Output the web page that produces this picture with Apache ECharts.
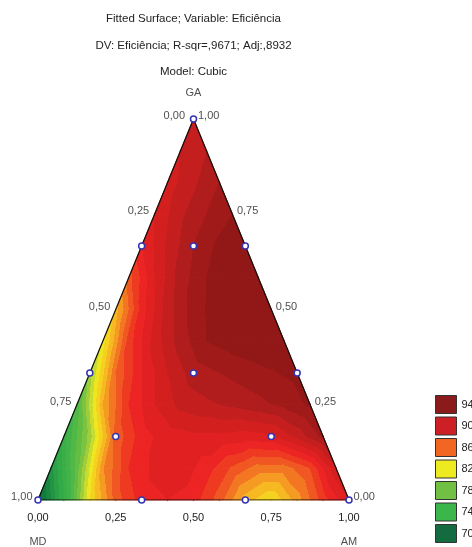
<!DOCTYPE html>
<html><head><meta charset="utf-8">
<script src="https://cdn.jsdelivr.net/npm/echarts@6/dist/echarts.min.js"></script>
<style>html,body{margin:0;padding:0;background:#fff}#c{width:472px;height:547px}</style>
</head><body><div id="c"></div>
<script>
// ---------------- data ----------------
const titleLines = ['Fitted Surface; Variable: Eficiência', 'DV: Eficiência; R-sqr=,9671; Adj:,8932', 'Model: Cubic'];
const cornerNames = ['GA', 'MD', 'AM']; // top, bottom-left, bottom-right
const cornerGA = [1, 0, 0];
const cornerAM = [0, 0, 1];
const tickValues = [0, 0.25, 0.5, 0.75, 1];
// design points (GA, AM); MD = 1 - GA - AM
const designGA = [1, 2/3, 2/3, 2/3, 1/3, 1/3, 1/3, 1/6, 1/6, 0, 0, 0, 0];
const designAM = [0, 0, 1/6, 1/3, 0, 1/3, 2/3, 1/6, 2/3, 0, 1/3, 2/3, 1];
// fitted surface (Eficiência) read on a 1/12 lattice:
// row i -> GA = i/12 ; entry j -> AM = j/12
const surfaceRows = [
  [68, 74, 82, 86.5, 88.5, 89, 88.5, 86.5, 83.5, 82, 84.5, 87.5, 90],
  [71.5, 77.5, 84.8, 88, 89.3, 89.6, 88.5, 86.8, 85.5, 85.5, 87, 90.8],
  [74.5, 79.5, 86.3, 88.6, 89.5, 89.8, 89.8, 89.5, 89.8, 91.3, 93.3],
  [76.5, 84, 88, 90, 91.3, 91.8, 92.2, 92.7, 93.3, 94.2],
  [79.5, 86, 89, 91, 92.5, 93, 93.5, 93.9, 94.3],
  [81.5, 87.5, 90.5, 92.5, 94, 94.5, 94.8, 94.6],
  [83.5, 88.5, 91.5, 93.5, 94.6, 95, 94.8],
  [86.5, 90, 92.5, 94, 94.8, 95],
  [89, 91.2, 93, 94.3, 94.8],
  [90, 91.8, 93, 94],
  [90.5, 91.8, 93],
  [91, 92],
  [91]
];
const legendLevels = ['94', '90', '86', '82', '78', '74', '70'];
const legendColors = ['#8b1a1a', '#cc2026', '#f26522', '#eeea20', '#72c043', '#3cb54a', '#136b3f'];

// ---------------- colour scale ----------------
const cmapStops = [
  [67, '#08602f'], [70, '#15803f'], [73, '#2fa848'], [76, '#45b548'], [78, '#6cc040'], [79, '#8cc63f'],
  [80.5, '#c8dc30'], [81.5, '#f0e620'], [83, '#f8c820'], [84.5, '#f59a22'], [86, '#f26522'],
  [87.5, '#ef3a22'], [88.5, '#ec2424'], [90, '#dc2020'], [91.5, '#c41e1e'], [93, '#a81b1b'], [94.5, '#921818'], [96, '#801414']
];
function hexRgb(h) { return [parseInt(h.slice(1,3),16), parseInt(h.slice(3,5),16), parseInt(h.slice(5,7),16)]; }
function cmap(v) {
  if (v <= cmapStops[0][0]) return cmapStops[0][1];
  const last = cmapStops[cmapStops.length-1];
  if (v >= last[0]) return last[1];
  for (let k = 0; k < cmapStops.length-1; k++) {
    const [v0, c0] = cmapStops[k], [v1, c1] = cmapStops[k+1];
    if (v >= v0 && v <= v1) {
      const t = (v - v0) / (v1 - v0), a = hexRgb(c0), b = hexRgb(c1);
      return 'rgb(' + a.map((x, q) => Math.round(x + (b[q]-x)*t)).join(',') + ')';
    }
  }
}
function bandColor(L) { return cmap(L + 0.5); }

const N = surfaceRows.length - 1;
const tris = [];
for (let i = 0; i < N; i++) for (let j = 0; i + j < N; j++) {
  tris.push([i, j, i, j+1, i+1, j]);
  if (i + j + 2 <= N) tris.push([i, j+1, i+1, j, i+1, j+1]);
}
function tern(ga, am) { return [am + ga/2, ga]; }
const fmt = v => v.toFixed(2).replace('.', ',');
const FONT = 'Liberation Sans, Arial, sans-serif';
const TXT = '#222';

function renderTri(params, api) {
  const p = [], v = [];
  for (let k = 0; k < 3; k++) {
    const i = api.value(2*k), j = api.value(2*k+1);
    p.push(api.coord(tern(i/N, j/N)));
    v.push(surfaceRows[i][j]);
  }
  const d2x = p[1][0]-p[0][0], d2y = p[1][1]-p[0][1], d3x = p[2][0]-p[0][0], d3y = p[2][1]-p[0][1];
  const dv2 = v[1]-v[0], dv3 = v[2]-v[0];
  const det = d2x*d3y - d2y*d3x;
  const Ax = (dv2*d3y - dv3*d2y)/det, Ay = (d2x*dv3 - d3x*dv2)/det;
  const n2 = Ax*Ax + Ay*Ay;
  const vmin = Math.min(...v), vmax = Math.max(...v);
  let fill;
  if (n2 < 1e-12 || vmax - vmin < 1e-9 || Math.floor(vmin) === Math.floor(vmax - 1e-9)) {
    fill = bandColor(Math.floor(vmin));
  } else {
    const sx = p[0][0] + (vmin - v[0])*Ax/n2, sy = p[0][1] + (vmin - v[0])*Ay/n2;
    const ex = p[0][0] + (vmax - v[0])*Ax/n2, ey = p[0][1] + (vmax - v[0])*Ay/n2;
    const stops = [{offset: 0, color: bandColor(Math.floor(vmin))}];
    for (let L = Math.floor(vmin) + 1; L < vmax; L++) {
      const t = (L - vmin)/(vmax - vmin);
      stops.push({offset: t, color: bandColor(L-1)});
      stops.push({offset: t, color: bandColor(L)});
    }
    stops.push({offset: 1, color: bandColor(Math.floor(vmax - 1e-9))});
    fill = {type: 'linear', x: sx, y: sy, x2: ex, y2: ey, global: true, colorStops: stops};
  }
  return {type: 'polygon', shape: {points: p}, style: {fill: fill, stroke: fill, lineWidth: 1.2, opacity: 1}};
}

const chart = echarts.init(document.getElementById('c'), null, {renderer: 'canvas'});
const lblBase = {fontFamily: FONT, fontSize: 11, color: TXT};
chart.setOption({
  animation: false,
  backgroundColor: '#fff',
  grid: {left: 38, top: 119, width: 311, height: 381, containLabel: false},
  xAxis: {type: 'value', min: 0, max: 1, interval: 0.25,
    axisLine: {show: false}, axisTick: {show: false}, splitLine: {show: false},
    axisLabel: Object.assign({margin: 12, showMinLabel: true, showMaxLabel: true, formatter: v => fmt(v)}, lblBase)},
  yAxis: {type: 'value', min: 0, max: 1, show: false},
  legend: {orient: 'vertical', left: 435, top: 395, itemWidth: 21, itemHeight: 18, itemGap: 2.5, padding: 0,
    selectedMode: false, icon: 'rect', itemStyle: {borderColor: '#333', borderWidth: 1, opacity: 1},
    textStyle: lblBase, data: legendLevels},
  graphic: titleLines.map((t, k) => ({type: 'text', x: 193.5, y: 19 + k*26.5,
    style: {text: t, textAlign: 'center', textVerticalAlign: 'middle', font: '11.5px ' + FONT, fill: TXT}})),
  series: [
    {type: 'custom', coordinateSystem: 'cartesian2d', data: tris, renderItem: renderTri, silent: true, z: 1},
    {type: 'line', data: [0,1,2,0].map(k => tern(cornerGA[k], cornerAM[k])), symbol: 'none', silent: true,
      lineStyle: {color: '#111', width: 1.2}, z: 3},
    {type: 'scatter', data: designGA.map((g, k) => tern(g, designAM[k])), symbol: 'circle', symbolSize: 6, silent: true,
      itemStyle: {color: '#fff', borderColor: '#3434b0', borderWidth: 1.5, opacity: 1}, z: 5},
    // left edge ticks (MD)
    {type: 'scatter', symbolSize: 1, itemStyle: {color: 'transparent'}, silent: true, z: 6,
      data: tickValues.map(md => ({value: tern(1-md, 0), label: {distance: md === 0 ? 8 : 5}})),
      label: Object.assign({show: true, position: 'left', offset: [0, -3],
        formatter: p => fmt(tickValues[p.dataIndex])}, lblBase)},
    // right edge ticks (GA)
    {type: 'scatter', symbolSize: 1, itemStyle: {color: 'transparent'}, silent: true, z: 6,
      data: tickValues.map(ga => tern(ga, 1-ga)),
      label: Object.assign({show: true, position: 'right', distance: 4, offset: [0, -3],
        formatter: p => fmt(tickValues[p.dataIndex])}, lblBase)},
    // corner names
    {type: 'scatter', symbolSize: 1, itemStyle: {color: 'transparent'}, silent: true, z: 6,
      data: cornerGA.map((g, k) => ({value: tern(g, cornerAM[k]),
        label: k === 0 ? {position: 'top', distance: 20} : {position: 'bottom', distance: 36}})),
      label: Object.assign({show: true, formatter: p => cornerNames[p.dataIndex]}, lblBase)},
    ...legendLevels.map((n, k) => ({type: 'scatter', name: n, data: [], itemStyle: {color: legendColors[k], opacity: 1}}))
  ]
});
</script></body></html>
